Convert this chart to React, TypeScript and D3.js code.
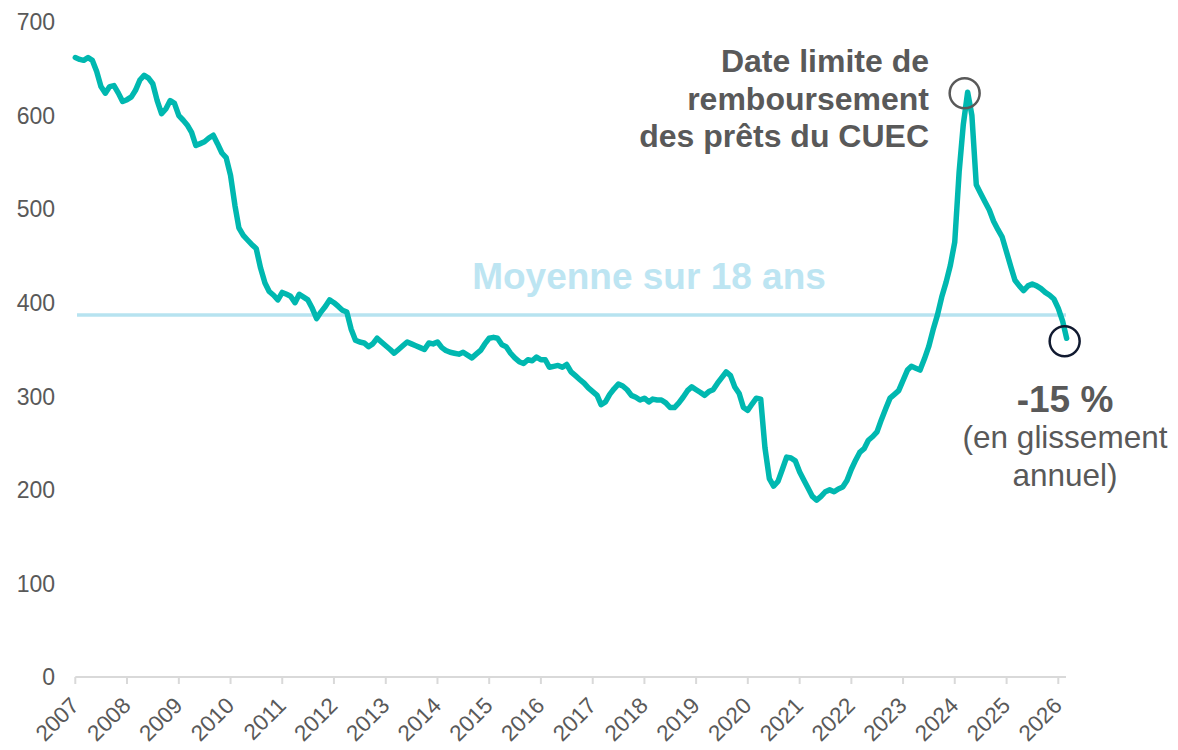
import React, { useRef, useEffect } from "react";
import * as d3 from "d3";

// monthly values, Jan 2007 -> Mar 2026
const v2007 = [662, 660, 659, 662, 659, 647, 631, 624, 631, 632, 624, 615];
const v2008 = [617, 620, 627, 638, 643, 640, 634, 616, 602, 607, 616, 613];
const v2009 = [600, 595, 590, 582, 568, 570, 572, 576, 579, 570, 560, 555];
const v2010 = [536, 504, 480, 472, 467, 462, 458, 437, 421, 412, 408, 403];
const v2011 = [411, 409, 407, 400, 409, 406, 403, 394, 383, 390, 396, 403];
const v2012 = [400, 396, 392, 390, 372, 360, 358, 357, 353, 356, 362, 358];
const v2013 = [354, 350, 346, 350, 354, 358, 356, 354, 352, 350, 357, 356];
const v2014 = [358, 352, 349, 347, 346, 345, 347, 344, 341, 345, 349, 356];
const v2015 = [362, 363, 362, 355, 353, 346, 341, 337, 335, 339, 338, 342];
const v2016 = [339, 339, 331, 332, 333, 331, 334, 326, 322, 318, 314, 309];
const v2017 = [305, 301, 291, 294, 302, 308, 313, 311, 307, 301, 299, 296];
const v2018 = [298, 294, 297, 296, 296, 293, 288, 288, 293, 299, 306, 310];
const v2019 = [307, 304, 301, 305, 307, 314, 320, 326, 322, 310, 303, 288];
const v2020 = [285, 292, 298, 297, 245, 212, 204, 209, 222, 235, 234, 231];
const v2021 = [219, 210, 202, 193, 189, 193, 198, 200, 198, 201, 203, 210];
const v2022 = [222, 232, 240, 244, 253, 257, 262, 275, 287, 298, 302, 306];
const v2023 = [317, 328, 332, 330, 328, 340, 353, 371, 387, 406, 422, 440];
const v2024 = [465, 540, 590, 625, 600, 526, 517, 508, 499, 487, 478, 470];
const v2025 = [454, 438, 424, 418, 413, 418, 420, 418, 415, 411, 408, 404];
const v2026 = [394, 380, 362];

const meanValue = 387;
const yTicks = [0, 100, 200, 300, 400, 500, 600, 700];
const years = d3.range(2007, 2027);

const meanLabel = "Moyenne sur 18 ans";
const peakLabel = ["Date limite de", "remboursement", "des prêts du CUEC"];
const endLabel = "-15 %";
const endSub = ["(en glissement", "annuel)"];

const W = 1178;
const H = 750;
const font = "'Liberation Sans', Arial, Helvetica, sans-serif";
const grey = "#595959";

export default function App() {
  const svgRef = useRef<SVGSVGElement>(null);

  useEffect(() => {
    const values = [].concat(
      v2007, v2008, v2009, v2010, v2011, v2012, v2013, v2014, v2015, v2016,
      v2017, v2018, v2019, v2020, v2021, v2022, v2023, v2024, v2025, v2026
    ) as number[];
    const data = values.map((v, i) => ({ date: new Date(2007, i, 1), value: v }));

    const x = d3.scaleTime()
      .domain([new Date(2007, 0, 1), new Date(2026, 0, 1)])
      .range([75.3, 1058.3]);
    const y = d3.scaleLinear().domain([0, 700]).range([677, 22]);

    const svg = d3.select(svgRef.current);
    svg.selectAll("*").remove();

    // y labels
    svg.append("g")
      .selectAll("text")
      .data(yTicks)
      .join("text")
      .attr("x", 55)
      .attr("y", (d) => y(d))
      .attr("dy", "0.36em")
      .attr("text-anchor", "end")
      .attr("font-family", font)
      .attr("font-size", 23)
      .attr("fill", grey)
      .text((d) => d);

    // x axis
    const xAxis = svg.append("g");
    xAxis.append("line")
      .attr("x1", x(new Date(2007, 0, 1)))
      .attr("x2", 1066)
      .attr("y1", y(0))
      .attr("y2", y(0))
      .attr("stroke", "#d9d9d9")
      .attr("stroke-width", 2);
    xAxis.selectAll("line.tick")
      .data(years)
      .join("line")
      .attr("class", "tick")
      .attr("x1", (d) => x(new Date(d, 0, 1)))
      .attr("x2", (d) => x(new Date(d, 0, 1)))
      .attr("y1", y(0))
      .attr("y2", y(0) + 7)
      .attr("stroke", "#d9d9d9")
      .attr("stroke-width", 2);
    xAxis.selectAll("text")
      .data(years)
      .join("text")
      .attr("transform", (d) => `translate(${x(new Date(d, 0, 1)) + 5},707) rotate(-45)`)
      .attr("text-anchor", "end")
      .attr("font-family", font)
      .attr("font-size", 22.5)
      .attr("fill", grey)
      .text((d) => d);

    // mean line + label
    svg.append("line")
      .attr("x1", 77)
      .attr("x2", 1066)
      .attr("y1", y(meanValue))
      .attr("y2", y(meanValue))
      .attr("stroke", "#b7e3f0")
      .attr("stroke-width", 3.5);
    svg.append("text")
      .attr("x", 649)
      .attr("y", 289)
      .attr("text-anchor", "middle")
      .attr("font-family", font)
      .attr("font-weight", "bold")
      .attr("font-size", 37)
      .attr("fill", "#bde5f2")
      .text(meanLabel);

    // series
    const line = d3.line<any>()
      .x((d) => x(d.date))
      .y((d) => y(d.value));
    svg.append("path")
      .datum(data)
      .attr("d", line)
      .attr("fill", "none")
      .attr("stroke", "#00b8b0")
      .attr("stroke-width", 5.5)
      .attr("stroke-linejoin", "round")
      .attr("stroke-linecap", "round");

    // peak annotation (local maximum after 2020)
    const peak = d3.greatest(
      data.filter((d) => d.date >= new Date(2020, 0, 1)),
      (d) => d.value
    )!;
    svg.append("circle")
      .attr("cx", x(peak.date) - 3)
      .attr("cy", y(peak.value) + 1)
      .attr("r", 15)
      .attr("fill", "none")
      .attr("stroke", grey)
      .attr("stroke-width", 2.5);
    svg.append("text")
      .attr("text-anchor", "end")
      .attr("font-family", font)
      .attr("font-weight", "bold")
      .attr("font-size", 32)
      .attr("fill", grey)
      .selectAll("tspan")
      .data(peakLabel)
      .join("tspan")
      .attr("x", 929)
      .attr("y", (d, i) => 72 + i * 37.5)
      .text((d) => d);

    // last point annotation
    const last = data[data.length - 1];
    svg.append("circle")
      .attr("cx", x(last.date) - 2)
      .attr("cy", y(last.value) + 3)
      .attr("r", 15)
      .attr("fill", "none")
      .attr("stroke", "#111a30")
      .attr("stroke-width", 2.5);
    svg.append("text")
      .attr("x", 1065)
      .attr("y", 412)
      .attr("text-anchor", "middle")
      .attr("font-family", font)
      .attr("font-weight", "bold")
      .attr("font-size", 37)
      .attr("fill", grey)
      .text(endLabel);
    svg.append("text")
      .attr("text-anchor", "middle")
      .attr("font-family", font)
      .attr("font-size", 31.5)
      .attr("fill", grey)
      .selectAll("tspan")
      .data(endSub)
      .join("tspan")
      .attr("x", 1065)
      .attr("y", (d, i) => 448 + i * 37.7)
      .text((d) => d);
  }, []);

  return (
    <div style={{ position: "absolute", left: 0, top: 0 }}>
      <svg ref={svgRef} width={W} height={H} style={{ display: "block", background: "#fff" }} />
    </div>
  );
}
